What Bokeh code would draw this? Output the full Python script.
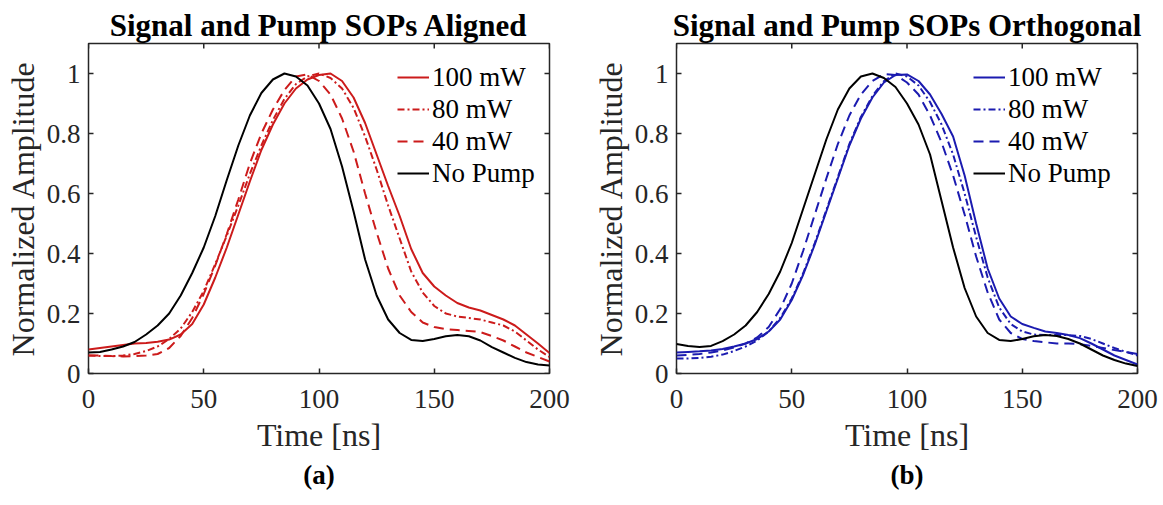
from math import pi
from bokeh.plotting import figure
from bokeh.models import Range1d, Legend, LegendItem, Title, FixedTicker
from bokeh.layouts import row
from bokeh.embed import file_html
from bokeh.resources import INLINE

# ---------------- data ----------------
time_ns = list(range(0, 201, 5))

x_min, x_max = 0, 200
y_min, y_max = 0, 1.1
x_ticks = [0, 50, 100, 150, 200]
y_ticks = [0, 0.2, 0.4, 0.6, 0.8, 1]
y_tick_labels = ["0", "0.2", "0.4", "0.6", "0.8", "1"]

series_labels = ["100 mW", "80 mW", "40 mW", "No Pump"]

# Panel (a): Signal and Pump SOPs Aligned
aligned_100mW = [0.08, 0.085, 0.09, 0.095, 0.1, 0.102, 0.106, 0.113, 0.13, 0.165,
                 0.23, 0.32, 0.42, 0.53, 0.64, 0.745, 0.83, 0.9, 0.95, 0.98,
                 0.995, 1.0, 0.975, 0.92, 0.835, 0.73, 0.625, 0.525, 0.415, 0.335,
                 0.29, 0.26, 0.235, 0.22, 0.21, 0.195, 0.18, 0.16, 0.13, 0.1, 0.068]
aligned_80mW = [0.06, 0.058, 0.058, 0.06, 0.065, 0.075, 0.09, 0.115, 0.15, 0.205,
                0.275, 0.365, 0.46, 0.56, 0.665, 0.76, 0.845, 0.915, 0.965, 0.99,
                1.0, 0.985, 0.95, 0.885, 0.79, 0.68, 0.56, 0.45, 0.34, 0.27,
                0.225, 0.2, 0.19, 0.185, 0.18, 0.17, 0.16, 0.14, 0.11, 0.08, 0.055]
aligned_40mW = [0.06, 0.06, 0.058, 0.057, 0.058, 0.06, 0.065, 0.085, 0.125, 0.185,
                0.265, 0.36, 0.465, 0.58, 0.7, 0.8, 0.88, 0.945, 0.99, 0.997,
                0.975, 0.93, 0.85, 0.74, 0.6, 0.47, 0.35, 0.26, 0.205, 0.17,
                0.155, 0.148, 0.145, 0.142, 0.138, 0.125, 0.11, 0.09, 0.07, 0.055, 0.04]
aligned_nopump = [0.07, 0.072, 0.08, 0.09, 0.105, 0.13, 0.16, 0.2, 0.26, 0.335,
                  0.42, 0.525, 0.645, 0.76, 0.86, 0.935, 0.98, 1.0, 0.99, 0.96,
                  0.9, 0.815, 0.69, 0.54, 0.38, 0.26, 0.18, 0.135, 0.112, 0.108,
                  0.115, 0.124, 0.128, 0.124, 0.11, 0.088, 0.07, 0.052, 0.038, 0.03, 0.027]

# Panel (b): Signal and Pump SOPs Orthogonal
orth_100mW = [0.07, 0.072, 0.074, 0.077, 0.082, 0.09, 0.1, 0.115, 0.14, 0.18,
              0.245, 0.33, 0.43, 0.54, 0.65, 0.76, 0.85, 0.92, 0.97, 0.995,
              0.997, 0.975, 0.93, 0.865, 0.79, 0.66, 0.5, 0.35, 0.25, 0.19,
              0.165, 0.152, 0.14, 0.135, 0.128, 0.118, 0.1, 0.08, 0.06, 0.045, 0.03]
orth_80mW = [0.05, 0.05, 0.052, 0.056, 0.063, 0.075, 0.09, 0.11, 0.14, 0.185,
             0.25, 0.335, 0.435, 0.545, 0.655, 0.765, 0.855, 0.925, 0.975, 1.0,
             0.99, 0.96, 0.905, 0.83, 0.73, 0.6, 0.455, 0.32, 0.22, 0.165,
             0.14, 0.13, 0.128, 0.128, 0.128, 0.125, 0.115, 0.1, 0.085, 0.072, 0.06]
orth_40mW = [0.06, 0.062, 0.065, 0.07, 0.077, 0.087, 0.1, 0.12, 0.155, 0.215,
             0.3, 0.41, 0.53, 0.65, 0.765, 0.86, 0.93, 0.975, 0.998, 0.995,
             0.97, 0.93, 0.86, 0.77, 0.66, 0.53, 0.39, 0.27, 0.18, 0.135,
             0.115, 0.108, 0.104, 0.1, 0.1, 0.098, 0.092, 0.085, 0.078, 0.072, 0.065]
orth_nopump = [0.098, 0.092, 0.088, 0.092, 0.108, 0.13, 0.16, 0.205, 0.265, 0.34,
               0.435, 0.55, 0.665, 0.78, 0.88, 0.95, 0.99, 1.0, 0.985, 0.955,
               0.9, 0.83, 0.73, 0.575, 0.42, 0.285, 0.19, 0.135, 0.112, 0.108,
               0.115, 0.124, 0.128, 0.125, 0.115, 0.1, 0.08, 0.06, 0.045, 0.033, 0.025]

RED = "#cc1b1b"
BLUE = "#1b1bb0"
BLACK = "#000000"
DASHES = ["solid", "7 3 2 3", "10 6", "solid"]
SERIF = "Liberation Serif"
GRAY = "#262626"


def make_panel(title, caption, ys, color, width, border_left, border_right, legend_x):
    p = figure(width=width, height=505, output_backend="svg", toolbar_location=None,
               x_range=Range1d(x_min, x_max), y_range=Range1d(y_min, y_max),
               min_border_left=border_left, min_border_right=border_right,
               min_border_top=43, min_border_bottom=132)
    p.title.text = title
    p.title.text_font = SERIF
    p.title.text_font_style = "bold"
    p.title.text_font_size = "31px"
    p.title.align = "center"
    p.title.standoff = 2
    p.title.text_color = "black"

    p.grid.visible = False
    p.outline_line_color = GRAY
    p.outline_line_width = 1.5
    p.background_fill_color = "white"
    p.border_fill_color = "white"

    colors = [color, color, color, BLACK]
    renderers = []
    for y, c, d in zip(ys, colors, DASHES):
        r = p.line(time_ns, y, line_color=c, line_width=2, line_dash=d)
        renderers.append(r)

    # mirrored inward ticks on top and right edges of the box
    p.ray(x=x_ticks, y=y_max, length=5, length_units="screen", angle=-pi / 2,
          line_color=GRAY, line_width=1.5)
    p.ray(x=x_max, y=y_ticks, length=5, length_units="screen", angle=pi,
          line_color=GRAY, line_width=1.5)

    xa = p.xaxis[0]
    ya = p.yaxis[0]
    xa.ticker = FixedTicker(ticks=x_ticks)
    ya.ticker = FixedTicker(ticks=y_ticks)
    ya.major_label_overrides = {t: l for t, l in zip(y_ticks, y_tick_labels)}
    for ax in (xa, ya):
        ax.major_tick_in = 5
        ax.major_tick_out = 0
        ax.minor_tick_line_color = None
        ax.axis_line_color = None
        ax.major_tick_line_color = GRAY
        ax.major_tick_line_width = 1.5
        ax.major_label_text_font = SERIF
        ax.major_label_text_font_size = "27px"
        ax.major_label_text_color = GRAY
        ax.axis_label_text_font = SERIF
        ax.axis_label_text_font_size = "32px"
        ax.axis_label_text_font_style = "normal"
        ax.axis_label_text_color = GRAY
    xa.axis_label = "Time [ns]"
    ya.axis_label = "Normalized Amplitude"
    xa.major_label_standoff = 16
    ya.major_label_standoff = 8
    xa.axis_label_standoff = 6
    ya.axis_label_standoff = 3

    items = [LegendItem(label=lab, renderers=[r]) for lab, r in zip(series_labels, renderers)]
    legend = Legend(items=items, location=(legend_x, 184),
                    label_text_font=SERIF, label_text_font_size="27px",
                    label_text_color="black",
                    glyph_width=32, glyph_height=32, label_height=32,
                    label_standoff=3, spacing=0, padding=0, margin=0,
                    background_fill_alpha=0, border_line_alpha=0)
    p.add_layout(legend, "center")

    cap = Title(text=caption, align="center", text_font=SERIF, text_font_style="bold",
                text_font_size="27px", text_color="black", standoff=4)
    p.add_layout(cap, "below")
    return p


p1 = make_panel("Signal and Pump SOPs Aligned", "(a)",
                [aligned_100mW, aligned_80mW, aligned_40mW, aligned_nopump],
                RED, 580, 88, 31, 309)
p2 = make_panel("Signal and Pump SOPs Orthogonal", "(b)",
                [orth_100mW, orth_80mW, orth_40mW, orth_nopump],
                BLUE, 583, 96, 26, 297)

layout = row(p1, p2)
open("out.html", "w").write(file_html(layout, INLINE))
